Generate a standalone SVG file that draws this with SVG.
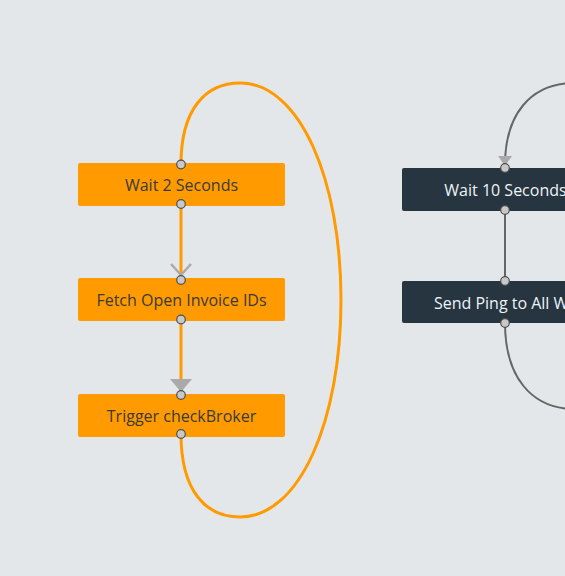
<svg xmlns="http://www.w3.org/2000/svg" width="565" height="576" viewBox="0 0 565 576">
<style>
.bg{fill:#e4e7ea}
.on{fill:#ff9a00}
.dn{fill:#263540}
.t{font-family:"Open Sans","Noto Sans",sans-serif;font-size:16px;text-anchor:middle;dominant-baseline:central}
.to{fill:#3a3a3a}
.td{fill:#eef3f8}
.port{fill:#c8c8c8;stroke:#505050;stroke-width:1.2}
.co{fill:none;stroke:#ff9a00;stroke-width:3}
.cd{fill:none;stroke:#666;stroke-width:2}
.ah{fill:#aaa}
.ac{fill:none;stroke:#aaa;stroke-width:2.5}
</style>
<rect class="bg" x="0" y="0" width="565" height="576"/>
<g id="connectors">
<path class="co" d="M181,204 L181,280"/>
<path class="co" d="M181,319 L181,395"/>
<path class="co" d="M181,434 C181,490 205,517 240,517 C300,517 341,420 341,300 C341,180 300,83 240,83 C205,83 181,110 181,164"/>
<path class="cd" d="M505,210 L505,281"/>
<path class="cd" d="M505,323 C505,375 530,409 575,409"/>
<path class="cd" d="M575,83 C530,83 505,115 505,165"/>
<path class="ac" d="M171,264 L181,275 L191,264"/>
<path class="ah" d="M170,379 L192,379 L181,392 Z"/>
<path class="ah" d="M498,156 L512,156 L505,166 Z"/>
</g>
<g id="n1">
<rect class="on" x="78" y="163" width="207" height="43" rx="2"/>
<text class="t to" x="181.5" y="185">Wait 2 Seconds</text>
<circle class="port" cx="181" cy="164.5" r="4.3"/>
<circle class="port" cx="181" cy="204" r="4.3"/>
</g>
<g id="n2">
<rect class="on" x="78" y="278" width="207" height="43" rx="2"/>
<text class="t to" x="181.5" y="300">Fetch Open Invoice IDs</text>
<circle class="port" cx="181" cy="280" r="4.3"/>
<circle class="port" cx="181" cy="319.5" r="4.3"/>
</g>
<g id="n3">
<rect class="on" x="78" y="394" width="207" height="43" rx="2"/>
<text class="t to" x="181.5" y="416">Trigger checkBroker</text>
<circle class="port" cx="181" cy="395" r="4.3"/>
<circle class="port" cx="181" cy="434" r="4.3"/>
</g>
<g id="n4">
<rect class="dn" x="402" y="168" width="207" height="43" rx="2"/>
<text class="t td" x="505.5" y="190">Wait 10 Seconds</text>
<circle class="port" cx="505" cy="168" r="4.3"/>
<circle class="port" cx="505" cy="210" r="4.3"/>
</g>
<g id="n5">
<rect class="dn" x="402" y="281" width="207" height="42" rx="2"/>
<text class="t td" x="505.5" y="303">Send Ping to All WS</text>
<circle class="port" cx="505" cy="281" r="4.3"/>
<circle class="port" cx="505" cy="323" r="4.3"/>
</g>
</svg>
